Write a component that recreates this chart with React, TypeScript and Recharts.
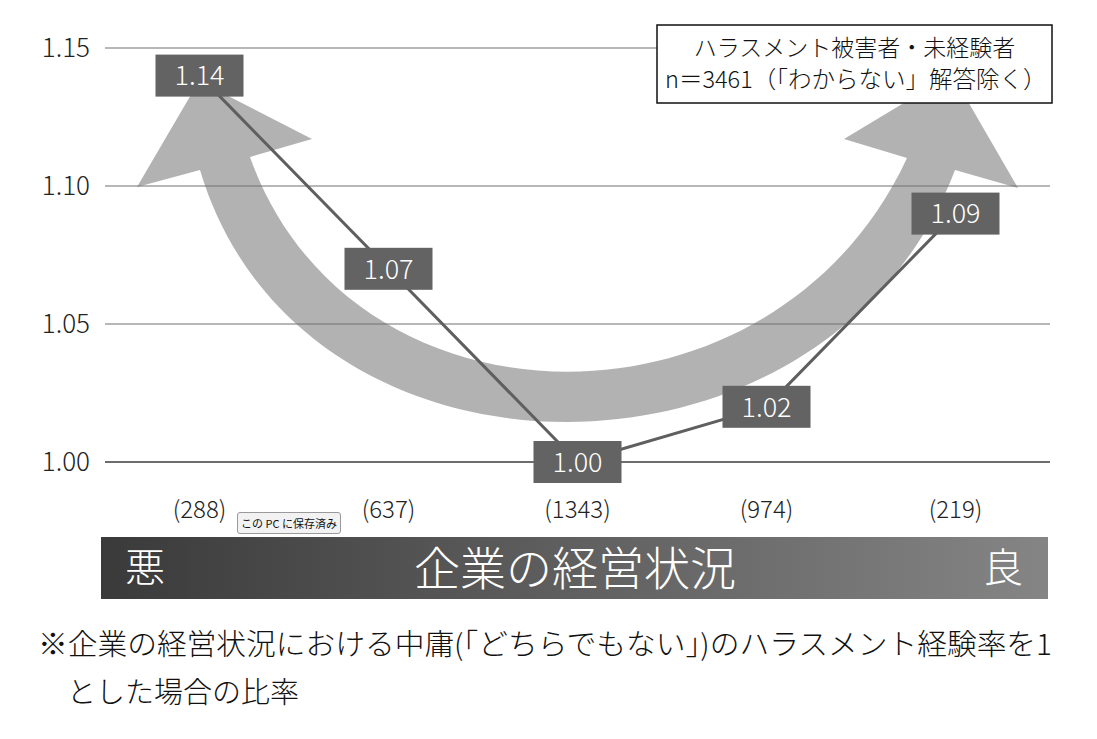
import { LineChart, Line, XAxis, YAxis, CartesianGrid, LabelList } from 'recharts';

// sample sizes shown under each category
const counts = ['(288)', '(637)', '(1343)', '(974)', '(219)'];
// harassment experience rate relative to the neutral group
const ratios = [1.14, 1.07, 1.0, 1.02, 1.09];
const yTicks = [1.0, 1.05, 1.1, 1.15];

const legendLines = ['ハラスメント被害者・未経験者', 'n＝3461（「わからない」解答除く）'];
const barLeft = '悪';
const barTitle = '企業の経営状況';
const barRight = '良';
const noteLines = [
  '※企業の経営状況における中庸(「どちらでもない」)のハラスメント経験率を1',
  'とした場合の比率',
];

const data = counts.map((name, i) => ({ name, ratio: ratios[i] }));

const FONT = '"Noto Sans CJK JP", "Noto Sans", sans-serif';
const W = 300;

// decorative U-shaped double arrow behind the line
const arrowPath =
  'M200,170 C300,506 827,506 955,170 L1018,188 L952,74 L844,139 L907,158 ' +
  'C775,443 352,443 250,157 L312,139 L199,81 L137,187 Z';

const ValueBox = (props: any) => {
  const { x, y, value } = props;
  if (x == null || y == null) return null;
  return (
    <g>
      <rect x={x - 44} y={y - 21} width={88} height={42} fill='#636363' />
      <text
        x={x}
        y={y}
        dy='0.36em'
        textAnchor='middle'
        fill='#ffffff'
        fontSize={27}
        fontWeight={W}
        fontFamily={FONT}
      >
        {Number(value).toFixed(2)}
      </text>
    </g>
  );
};

export default function App() {
  return (
    <div
      style={{
        position: 'absolute',
        left: 0,
        top: 0,
        width: 1097,
        height: 739,
        background: '#fff',
        fontFamily: FONT,
        overflow: 'hidden',
      }}
    >
      <svg width={1097} height={540} style={{ position: 'absolute', left: 0, top: 0 }}>
        <path d={arrowPath} fill='#b2b2b2' />
      </svg>

      <div style={{ position: 'absolute', left: 0, top: 0 }}>
        <LineChart
          width={1097}
          height={540}
          data={data}
          margin={{ top: 48, right: 47, left: 0, bottom: 18 }}
        >
          <CartesianGrid vertical={false} stroke='#707070' strokeWidth={1} />
          <XAxis
            dataKey='name'
            height={60}
            padding={{ left: 94.5, right: 94.5 }}
            tickLine={false}
            axisLine={{ stroke: '#222', strokeWidth: 1 }}
            tickMargin={33}
            tick={{ fill: '#222', fontSize: 24, fontWeight: W, fontFamily: FONT }}
          />
          <YAxis
            width={105}
            domain={[1.0, 1.15]}
            ticks={yTicks}
            tickFormatter={(v: number) => v.toFixed(2)}
            tickLine={false}
            axisLine={false}
            tickMargin={9}
            tick={{ fill: '#222', fontSize: 26, fontWeight: W, fontFamily: FONT }}
          />
          <Line
            type='linear'
            dataKey='ratio'
            stroke='#5f5f5f'
            strokeWidth={3}
            dot={false}
            isAnimationActive={false}
          >
            <LabelList dataKey='ratio' content={ValueBox} />
          </Line>
        </LineChart>
      </div>

      <svg width={1097} height={739} style={{ position: 'absolute', left: 0, top: 0 }}>
        <defs>
          <linearGradient id='barGrad' x1='0' y1='0' x2='1' y2='0'>
            <stop offset='0%' stopColor='#3a3a3a' />
            <stop offset='100%' stopColor='#858585' />
          </linearGradient>
        </defs>

        <rect x={657} y={25} width={395} height={78} fill='#fff' stroke='#111' strokeWidth={1.5} />
        <text
          x={854.5}
          y={48}
          dy='0.36em'
          textAnchor='middle'
          fontSize={23}
          fontWeight={W}
          fill='#111'
          fontFamily={FONT}
        >
          {legendLines[0]}
        </text>
        <text x={665} y={80} dy='0.36em' fontSize={23.5} fontWeight={W} fill='#111' fontFamily={FONT}>
          {legendLines[1]}
        </text>

        <rect x={101} y={537} width={947} height={62} fill='url(#barGrad)' />
        <text x={125} y={568} dy='0.36em' fontSize={40} fontWeight={W} fill='#fff' fontFamily={FONT}>
          {barLeft}
        </text>
        <text
          x={575}
          y={568}
          dy='0.36em'
          textAnchor='middle'
          fontSize={46}
          fontWeight={W}
          fill='#fff'
          fontFamily={FONT}
        >
          {barTitle}
        </text>
        <text
          x={1023}
          y={568}
          dy='0.36em'
          textAnchor='end'
          fontSize={40}
          fontWeight={W}
          fill='#fff'
          fontFamily={FONT}
        >
          {barRight}
        </text>

        <text
          x={38}
          y={645}
          dy='0.36em'
          fontSize={29}
          fontWeight={W}
          fill='#111'
          fontFamily={FONT}
          textLength={1014}
          lengthAdjust='spacingAndGlyphs'
        >
          {noteLines[0]}
        </text>
        <text x={67} y={693} dy='0.36em' fontSize={29} fontWeight={W} fill='#111' fontFamily={FONT}>
          {noteLines[1]}
        </text>
      </svg>

      <div
        style={{
          position: 'absolute',
          left: 237,
          top: 512,
          width: 104,
          height: 22,
          boxSizing: 'border-box',
          border: '1px solid #9a9a9a',
          borderRadius: 3,
          background: '#f2f2f2',
          fontSize: 11,
          lineHeight: '20px',
          textAlign: 'center',
          color: '#111',
          fontFamily: FONT,
        }}
      >
        この PC に保存済み
      </div>
    </div>
  );
}
